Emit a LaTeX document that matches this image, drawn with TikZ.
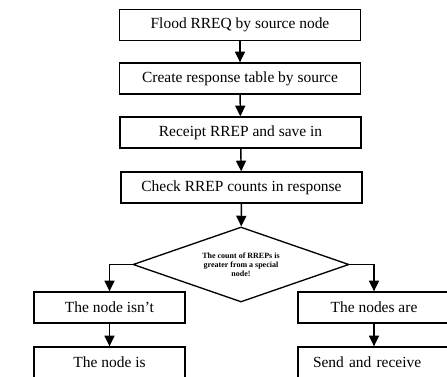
\documentclass[tikz,border=0pt]{standalone}
\usepackage{fontspec}
\setmainfont{Liberation Serif}
\usetikzlibrary{shapes.geometric,arrows.meta}
\begin{document}
\begin{tikzpicture}[x=0.75pt,y=-0.75pt,
  box/.style={draw,line width=1pt,rectangle,minimum height=31*0.75pt,inner sep=0pt,
    font=\fontsize{11.6pt}{12pt}\selectfont},
  wide/.style={box,minimum width=241*0.75pt},
  narrow/.style={box,minimum width=151*0.75pt},
  arr/.style={line width=1.1pt,-{Triangle[length=8pt,width=7.5pt]}},
  ln/.style={line width=1.1pt}]
\clip (0,0) rectangle (447,376);
\node[wide] (b1) at (240,25) {Flood RREQ by source node};
\node[wide] (b2) at (240,78.5) {Create response table by source};
\node[wide] (b3) at (240.5,132.5) {Receipt RREP and save in};
\node[wide] (b4) at (241.5,187.5) {Check RREP counts in response};
\node[draw,line width=1pt,diamond,minimum width=216*0.75pt,minimum height=75*0.75pt,
  inner sep=0pt,aspect=2.88,align=center,
  font=\fontsize{6pt}{6.8pt}\selectfont\bfseries] (d) at (241,264.5)
  {The count of RREPs is\\greater from a special\\node!};
\node[narrow] (l1) at (109.5,307.5) {The node isn’t};
\node[narrow,minimum width=152*0.75pt] (r1) at (374,307.5) {The nodes are};
\node[narrow] (l2) at (109.5,362.5) {The node is};
\node[box,minimum width=152*0.75pt,text width=122*0.75pt,inner xsep=15*0.75pt,align=left] (r2) at (374,362.5) {Send and receive};
\draw[arr] (b1) -- (b2);
\draw[arr] (b2) -- (b3);
\draw[arr] (b3) -- (b4);
\draw[arr] (b4) -- (d);
\draw[arr] (d.west) -| (l1.north);
\draw[arr] (d.east) -| (r1.north);
\draw[arr] (l1) -- (l2);
\draw[arr] (r1) -- (r2);
\end{tikzpicture}
\end{document}
